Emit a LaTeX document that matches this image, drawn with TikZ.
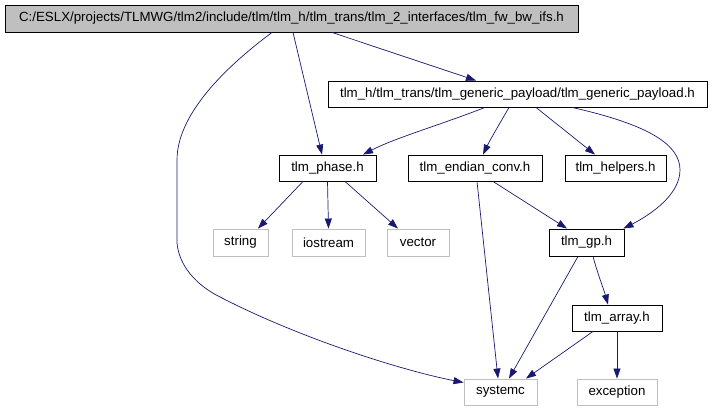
\documentclass[tikz,border=0pt]{standalone}
\usepackage{fontspec}
\setmainfont{Liberation Sans}
\usetikzlibrary{arrows.meta}
\definecolor{edgeblue}{HTML}{191970}
\definecolor{boxgray}{HTML}{BFBFBF}
\begin{document}
\begin{tikzpicture}[x=1pt,y=-1pt,
  every node/.style={font=\fontsize{13.3}{16}\selectfont, inner sep=0pt, anchor=center},
  filebox/.style={draw=black, line width=0.9pt, minimum height=#1},
  filebox/.default=26pt,
  sysbox/.style={draw=boxgray, line width=0.9pt, minimum height=26pt},
  rootbox/.style={draw=black, fill=boxgray, line width=0.9pt, minimum height=27pt},
  dep/.style={draw=edgeblue, line width=0.7pt, -{Triangle[length=10pt,width=7pt]}, color=edgeblue}]
\useasboundingbox (0,0) rectangle (712,411);

\node[rootbox, minimum width=573pt] (root) at (291.5,18.5) {C:/ESLX/projects/TLMWG/tlm2/include/tlm/tlm\_h/tlm\_trans/tlm\_2\_interfaces/tlm\_fw\_bw\_ifs.h};
\node[filebox, minimum width=379pt] (payload) at (517.5,94) {tlm\_h/tlm\_trans/tlm\_generic\_payload/tlm\_generic\_payload.h};
\node[filebox, minimum width=97pt] (phase) at (327.5,168) {tlm\_phase.h};
\node[filebox, minimum width=134pt] (endian) at (475,168) {tlm\_endian\_conv.h};
\node[filebox, minimum width=101pt] (helpers) at (615.5,168) {tlm\_helpers.h};
\node[sysbox, minimum width=55pt, minimum height=27pt] (string) at (240.5,242.5) {string};
\node[sysbox, minimum width=73pt, minimum height=27pt] (iostream) at (328.5,242.5) {iostream};
\node[sysbox, minimum width=62pt, minimum height=27pt] (vector) at (418,242.5) {vector};
\node[filebox=27pt, minimum width=75pt] (gp) at (586.5,242.5) {tlm\_gp.h};
\node[filebox, minimum width=90pt] (array) at (617,318) {tlm\_array.h};
\node[sysbox, minimum width=73pt] (systemc) at (500.5,392) {systemc};
\node[sysbox, minimum width=80pt] (exception) at (617,392) {exception};

% root edges
\draw[dep] ([xshift=40.5pt]root.south) -- ([xshift=-41.5pt]payload.north);
\draw[dep] ([xshift=1.5pt]root.south) -- ([xshift=-5.5pt]phase.north);
\draw[dep] ([xshift=-19.5pt]root.south) .. controls (235,60) and (177,110) .. (177,160)
   -- (177,243) .. controls (179,265) and (195,285) .. (222,298)
   .. controls (300,338) and (400,370) .. ([shift={(0,4)}]systemc.north west);

% payload edges
\draw[dep] ([xshift=-32.5pt]payload.south) .. controls (440,125) and (395,138) .. ([xshift=35.5pt]phase.north);
\draw[dep] ([xshift=-8.5pt]payload.south) .. controls (500,123) and (490,140) .. ([xshift=8pt]endian.north);
\draw[dep] ([xshift=18.5pt]payload.south) -- ([xshift=-20.5pt]helpers.north);
\draw[dep] ([xshift=54.5pt]payload.south) .. controls (650,125) and (680,145) .. (680,170)
   .. controls (680,195) and (650,215) .. ([xshift=-1pt]gp.north east);

% phase edges
\draw[dep] ([xshift=-24.5pt]phase.south) -- ([xshift=17.5pt]string.north);
\draw[dep] (phase.south) -- (iostream.north);
\draw[dep] ([xshift=17.5pt]phase.south) -- ([xshift=-20pt]vector.north);

% endian edges
\draw[dep] ([xshift=18pt]endian.south) -- ([xshift=-19.5pt]gp.north);
\draw[dep] ([xshift=2pt]endian.south) -- ([xshift=-2.5pt]systemc.north);

% gp edges
\draw[dep] ([xshift=-8.5pt]gp.south) -- ([xshift=8.5pt]systemc.north);
\draw[dep] ([xshift=6.5pt]gp.south) .. controls (598,275) and (604,290) .. ([xshift=-9pt]array.north);

% array edges
\draw[dep] ([xshift=-24pt]array.south) -- ([xshift=25.5pt]systemc.north);
\draw[dep] (array.south) -- (exception.north);
\end{tikzpicture}
\end{document}
